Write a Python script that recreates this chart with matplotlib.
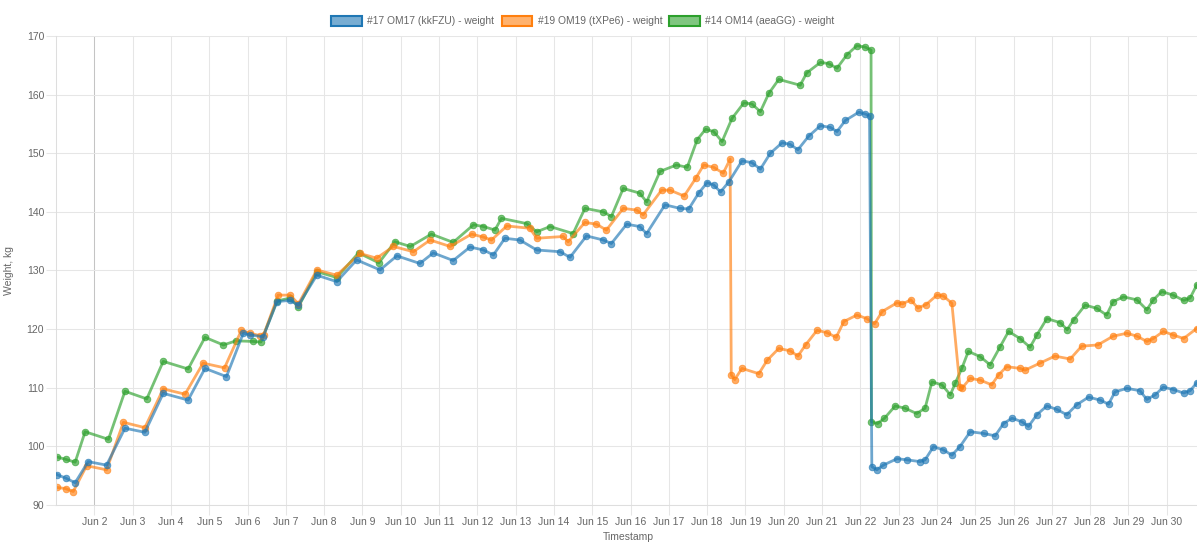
import matplotlib
matplotlib.use("Agg")
import matplotlib.pyplot as plt
from matplotlib.patches import Patch

plt.rcParams['font.family'] = ['Liberation Sans', 'DejaVu Sans']

# ---------------- data (day of June as float, weight in kg) ----------------
series_labels = ["#17 OM17 (kkFZU) - weight",
                 "#19 OM19 (tXPe6) - weight",
                 "#14 OM14 (aeaGG) - weight"]
series_colors = ["#1f77b4", "#ff7f0e", "#2ca02c"]

om17_day = [1.02, 1.25, 1.5, 1.84, 2.32, 2.8, 3.32, 3.8, 4.45, 4.89, 5.45, 5.89, 6.07, 6.41,
            6.77, 7.11, 7.33, 7.81, 8.33, 8.85, 9.46, 9.9, 10.5, 10.85, 11.37, 11.81, 12.16,
            12.42, 12.72, 13.11, 13.55, 14.16, 14.42, 14.85, 15.29, 15.5, 15.9, 16.24, 16.42,
            16.9, 17.29, 17.52, 17.78, 18.0, 18.17, 18.35, 18.57, 18.91, 19.17, 19.39, 19.65,
            19.96, 20.17, 20.37, 20.65, 20.96, 21.22, 21.39, 21.61, 21.96, 22.13, 22.24, 22.30,
            22.43, 22.6, 22.96, 23.22, 23.56, 23.69, 23.91, 24.17, 24.39, 24.6, 24.87, 25.22,
            25.52, 25.74, 25.96, 26.22, 26.39, 26.61, 26.87, 27.13, 27.39, 27.65, 27.96, 28.26,
            28.48, 28.65, 28.96, 29.3, 29.48, 29.7, 29.91, 30.17, 30.44, 30.61, 30.78]
om17_weight = [95.2, 94.6, 93.8, 97.4, 96.8, 103.1, 102.4, 109.05, 107.9, 113.3, 111.9, 119.3,
               119.0, 118.7, 124.7, 124.9, 124.1, 129.2, 128.1, 131.8, 130.1, 132.5, 131.2,
               133.0, 131.7, 134.0, 133.5, 132.65, 135.5, 135.2, 133.5, 133.2, 132.25, 135.9,
               135.2, 134.6, 137.9, 137.5, 136.3, 141.2, 140.6, 140.5, 143.2, 145.0, 144.6,
               143.4, 145.15, 148.7, 148.4, 147.3, 150.0, 151.8, 151.5, 150.6, 152.9, 154.7,
               154.4, 153.7, 155.6, 157.0, 156.7, 156.4, 96.55, 96.0, 96.8, 97.9, 97.7, 97.4,
               97.7, 99.95, 99.4, 98.5, 99.95, 102.5, 102.2, 101.8, 103.9, 104.8, 104.2, 103.4,
               105.4, 106.9, 106.3, 105.4, 107.1, 108.4, 107.9, 107.2, 109.3, 109.9, 109.5,
               108.0, 108.8, 110.1, 109.7, 109.1, 109.5, 110.8]

om19_day = [1.02, 1.25, 1.45, 1.8, 2.32, 2.76, 3.32, 3.8, 4.37, 4.84, 5.4, 5.84, 6.07, 6.32,
            6.42, 6.8, 7.11, 7.33, 7.81, 8.33, 8.94, 9.37, 9.81, 10.33, 10.77, 11.29, 11.85,
            12.16, 12.37, 12.77, 13.37, 13.55, 14.24, 14.37, 14.81, 15.11, 15.37, 15.81, 16.16,
            16.33, 16.81, 17.03, 17.4, 17.7, 17.91, 18.17, 18.42, 18.6, 18.63, 18.72, 18.91,
            19.35, 19.57, 19.87, 20.17, 20.37, 20.57, 20.87, 21.13, 21.37, 21.57, 21.91, 22.17,
            22.37, 22.57, 22.96, 23.1, 23.32, 23.5, 23.72, 24.0, 24.17, 24.39, 24.6, 24.65,
            24.87, 25.13, 25.43, 25.61, 25.82, 26.17, 26.3, 26.69, 27.08, 27.48, 27.78, 28.2,
            28.6, 28.96, 29.22, 29.48, 29.65, 29.91, 30.17, 30.44, 30.78]
om19_weight = [93.0, 92.8, 92.3, 96.7, 96.0, 104.1, 103.2, 109.8, 108.9, 114.2, 113.4, 119.8,
               119.3, 118.9, 119.0, 125.8, 125.8, 124.3, 130.1, 129.2, 132.9, 132.1, 134.1,
               133.2, 135.2, 134.1, 136.2, 135.7, 135.2, 137.6, 137.2, 135.5, 135.8, 134.9,
               138.2, 137.9, 136.9, 140.6, 140.3, 139.5, 143.7, 143.7, 142.7, 145.7, 148.0,
               147.6, 146.6, 149.0, 112.2, 111.4, 113.3, 112.4, 114.7, 116.7, 116.3, 115.4,
               117.3, 119.8, 119.4, 118.6, 121.3, 122.4, 121.8, 120.9, 123.0, 124.5, 124.3,
               125.0, 123.6, 124.2, 125.8, 125.65, 124.4, 110.2, 109.9, 111.6, 111.3, 110.5,
               112.2, 113.6, 113.3, 113.0, 114.2, 115.4, 114.9, 117.1, 117.3, 118.8, 119.3,
               118.8, 117.9, 118.4, 119.6, 119.0, 118.4, 120.1]

om14_day = [1.02, 1.25, 1.5, 1.76, 2.37, 2.8, 3.37, 3.8, 4.45, 4.89, 5.37, 5.7, 6.15, 6.35,
            6.77, 7.11, 7.33, 7.81, 8.33, 8.9, 9.43, 9.85, 10.25, 10.8, 11.37, 11.9, 12.16,
            12.46, 12.63, 13.29, 13.55, 13.9, 14.5, 14.81, 15.29, 15.5, 15.81, 16.24, 16.42,
            16.77, 17.2, 17.48, 17.74, 17.96, 18.17, 18.39, 18.65, 18.96, 19.17, 19.39, 19.61,
            19.87, 20.43, 20.6, 20.96, 21.17, 21.39, 21.65, 21.91, 22.13, 22.28, 22.29, 22.45,
            22.63, 22.91, 23.17, 23.47, 23.69, 23.87, 24.13, 24.35, 24.48, 24.65, 24.82, 25.13,
            25.39, 25.65, 25.87, 26.17, 26.43, 26.61, 26.87, 27.22, 27.4, 27.57, 27.87, 28.17,
            28.43, 28.6, 28.87, 29.22, 29.48, 29.65, 29.87, 30.17, 30.44, 30.61, 30.78]
om14_weight = [98.2, 97.8, 97.3, 102.5, 101.2, 109.4, 108.1, 114.5, 113.2, 118.6, 117.3, 118.0,
               117.9, 117.8, 124.8, 125.3, 123.8, 129.8, 128.8, 133.0, 131.3, 134.9, 134.1,
               136.2, 134.8, 137.8, 137.5, 136.9, 138.9, 138.0, 136.6, 137.5, 136.3, 140.6,
               140.0, 139.2, 144.0, 143.2, 141.7, 146.9, 148.0, 147.6, 152.3, 154.1, 153.7,
               152.0, 155.95, 158.6, 158.4, 157.1, 160.2, 162.6, 161.6, 163.7, 165.5, 165.3,
               164.5, 166.8, 168.35, 168.1, 167.6, 104.2, 103.9, 104.8, 106.9, 106.5, 105.6,
               106.5, 111.0, 110.5, 108.8, 110.8, 113.3, 116.2, 115.3, 113.9, 117.0, 119.6,
               118.4, 116.9, 119.0, 121.8, 121.1, 119.9, 121.6, 124.1, 123.55, 122.4, 124.7,
               125.5, 125.0, 123.3, 125.0, 126.4, 125.8, 124.9, 125.3, 127.5]

tick_days = list(range(2, 31))
tick_labels = [f"Jun {d}" for d in tick_days]
y_ticks = [90, 100, 110, 120, 130, 140, 150, 160, 170]

# ---------------- figure ----------------
W, H = 1197, 543
fig = plt.figure(figsize=(W / 100, H / 100), dpi=100)
ax = fig.add_axes([56 / W, 1 - 505 / H, 1 - 56 / W, (505 - 36) / H])

series = [(om14_day, om14_weight, 2, 1), (om19_day, om19_weight, 1, 2), (om17_day, om17_weight, 0, 3)]
for days, weights, idx, z in series:
    c = series_colors[idx]
    ax.plot(days, weights, color=c, alpha=0.65, lw=2.0, zorder=z,
            marker='o', markersize=4.8, markerfacecolor=c, markeredgecolor=c,
            markeredgewidth=0.6, solid_joinstyle='round')

ax.set_xlim(1.0, 30.79)
ax.set_ylim(90, 170)
ax.set_xticks(tick_days)
ax.set_xticklabels(tick_labels)
ax.set_yticks(y_ticks)

ax.grid(True, color='#e6e6e6', lw=0.75, zorder=0)
ax.set_axisbelow(True)
xg = ax.get_xgridlines()
xg[0].set_color('#c4c4c4')

for s in ['top', 'right']:
    ax.spines[s].set_visible(False)
for s in ['left', 'bottom']:
    ax.spines[s].set_color('#dedede')
    ax.spines[s].set_linewidth(0.75)

ax.tick_params(axis='both', length=7, width=0.75, color='#e6e6e6',
               labelcolor='#666666', labelsize=7.5, pad=1.5)

ax.set_ylabel("Weight, kg", fontsize=7.5, color='#666666')
ax.yaxis.set_label_coords((14 - 56) / (W - 56), 0.5)
fig.text(628 / W, 1 - 537 / H, "Timestamp", ha='center', va='center',
         fontsize=7.5, color='#666666')

handles = [Patch(facecolor=matplotlib.colors.to_rgba(c, 0.6), edgecolor=c, linewidth=1.5)
           for c in series_colors]
fig.legend(handles, series_labels, loc='center', bbox_to_anchor=(583 / W, 1 - 21 / H),
           ncol=3, frameon=False, fontsize=7.4, handlelength=3.0, handleheight=1.1,
           handletextpad=0.5, columnspacing=0.7, labelcolor='#666666')

fig.savefig("out.png", dpi=100)
